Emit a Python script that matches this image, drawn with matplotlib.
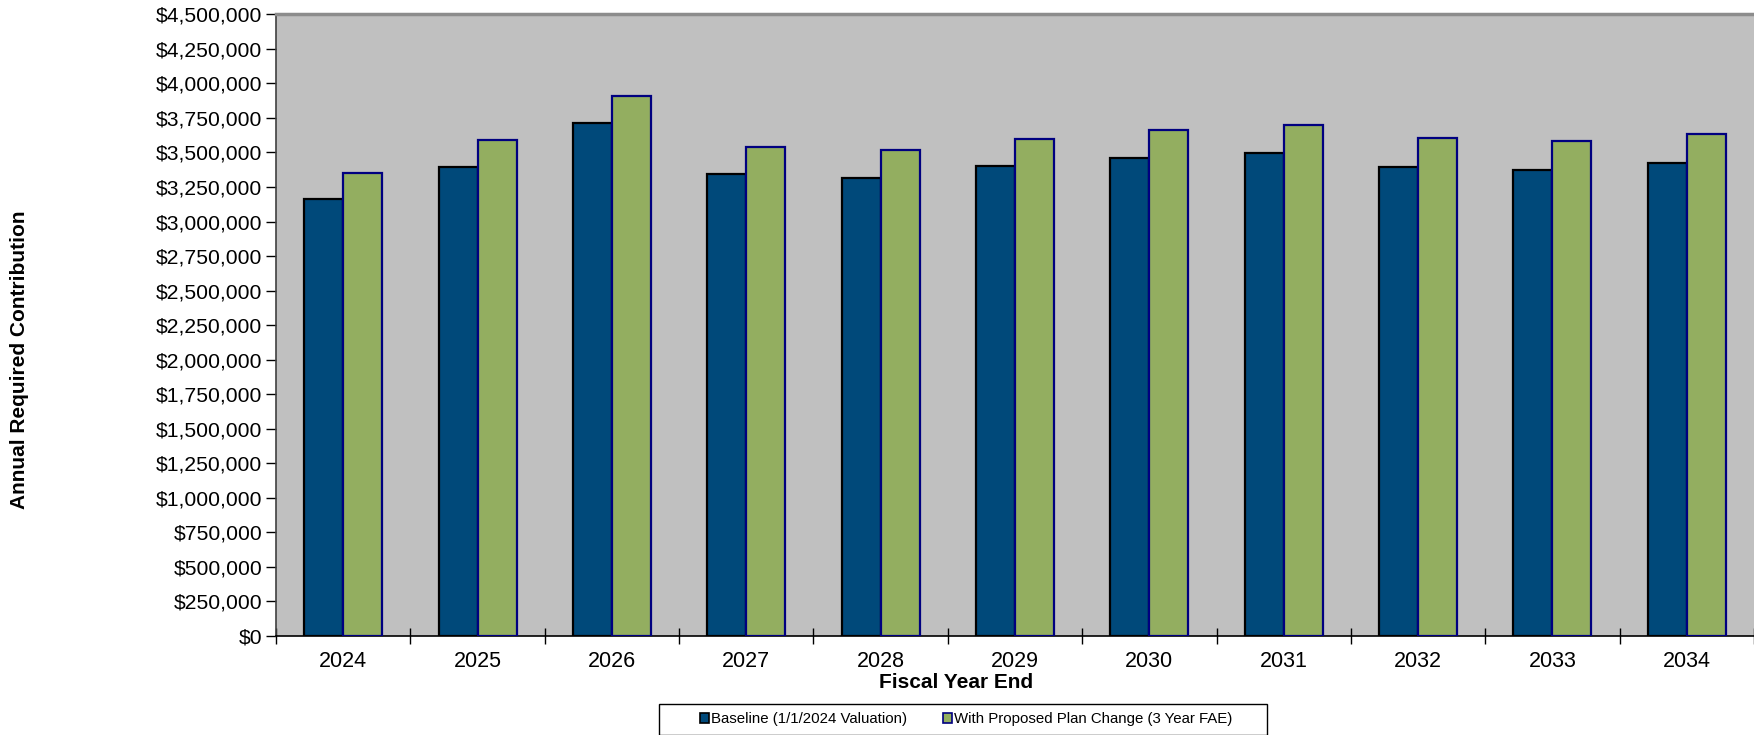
import matplotlib
matplotlib.use("Agg")
import matplotlib.pyplot as plt
import numpy as np
from matplotlib.ticker import FuncFormatter, FixedLocator, MultipleLocator
from matplotlib.patches import Patch, Rectangle

plt.rcParams['font.family'] = ['Liberation Sans', 'DejaVu Sans']

years = ['2024', '2025', '2026', '2027', '2028', '2029', '2030', '2031', '2032', '2033', '2034']
baseline = [3163000, 3393000, 3711000, 3346000, 3316000, 3399000, 3462000, 3498000, 3397000, 3375000, 3421000]
proposed = [3353000, 3588000, 3906000, 3542000, 3516000, 3597000, 3665000, 3701000, 3602000, 3583000, 3631000]
series_names = ['Baseline (1/1/2024 Valuation)', 'With Proposed Plan Change (3 Year FAE)']

fig = plt.figure(figsize=(17.54, 7.35), dpi=100)
ax = fig.add_axes([276/1754, 1-636/735, 1-276/1754, (636-14.3)/735])
ax.set_facecolor('#C0C0C0')

x = np.arange(len(years))
w = 0.29
ax.bar(x - w/2, baseline, w, color='#00497A', edgecolor='black', linewidth=1.6, zorder=3)
ax.bar(x + w/2, proposed, w, color='#93AE60', edgecolor='#000080', linewidth=1.6, zorder=3)

ax.set_xlim(-0.5, len(years) - 0.5)
ax.set_ylim(0, 4500000)
ax.yaxis.set_major_locator(MultipleLocator(250000))
ax.yaxis.set_major_formatter(FuncFormatter(lambda v, p: f'${v:,.0f}'))

ax.xaxis.set_major_locator(FixedLocator(np.arange(-0.5, len(years), 1.0)))
ax.xaxis.set_major_formatter(FuncFormatter(lambda v, p: ''))
ax.xaxis.set_minor_locator(FixedLocator(x))
ax.set_xticklabels(years, minor=True)
ax.tick_params(axis='x', which='major', direction='inout', length=11, width=1, color='black')
ax.tick_params(axis='x', which='minor', length=0, labelsize=15.5, pad=11)
ax.tick_params(axis='y', which='major', direction='out', length=7, width=1, labelsize=15.2, pad=3)

for s in ['top', 'right']:
    ax.spines[s].set_visible(False)
ax.spines['left'].set_color('#404040')
ax.spines['left'].set_linewidth(1.2)
ax.spines['bottom'].set_color('black')
ax.spines['bottom'].set_linewidth(1.2)
ax.axhline(4500000, color='#8C8C8C', linewidth=2.5, zorder=4, clip_on=False)

fig.text(956/1754, 1-682/735, 'Fiscal Year End', ha='center', va='center', fontsize=15, fontweight='bold')
fig.text(20/1754, 1-360/735, 'Annual Required Contribution', ha='center', va='center', rotation=90,
         fontsize=15, fontweight='bold')

# legend frame
fig.patches.append(Rectangle((659/1754, 0.5/735), (1267-659)/1754, (735-704.5)/735,
                             transform=fig.transFigure, facecolor='white', edgecolor='black',
                             linewidth=1.0, zorder=1))
handles = [Patch(facecolor='#00497A', edgecolor='black', linewidth=1.2),
           Patch(facecolor='#93AE60', edgecolor='#000080', linewidth=1.2)]
leg = fig.legend(handles, series_names, loc='center', bbox_to_anchor=(966/1754, 1-719.5/735), ncol=2,
                 fontsize=10.8, frameon=False, handlelength=0.6,
                 handleheight=0.6, handletextpad=0.15, columnspacing=2.35, borderpad=0.2)
leg.set_zorder(2)

fig.savefig('out.png', dpi=100)
